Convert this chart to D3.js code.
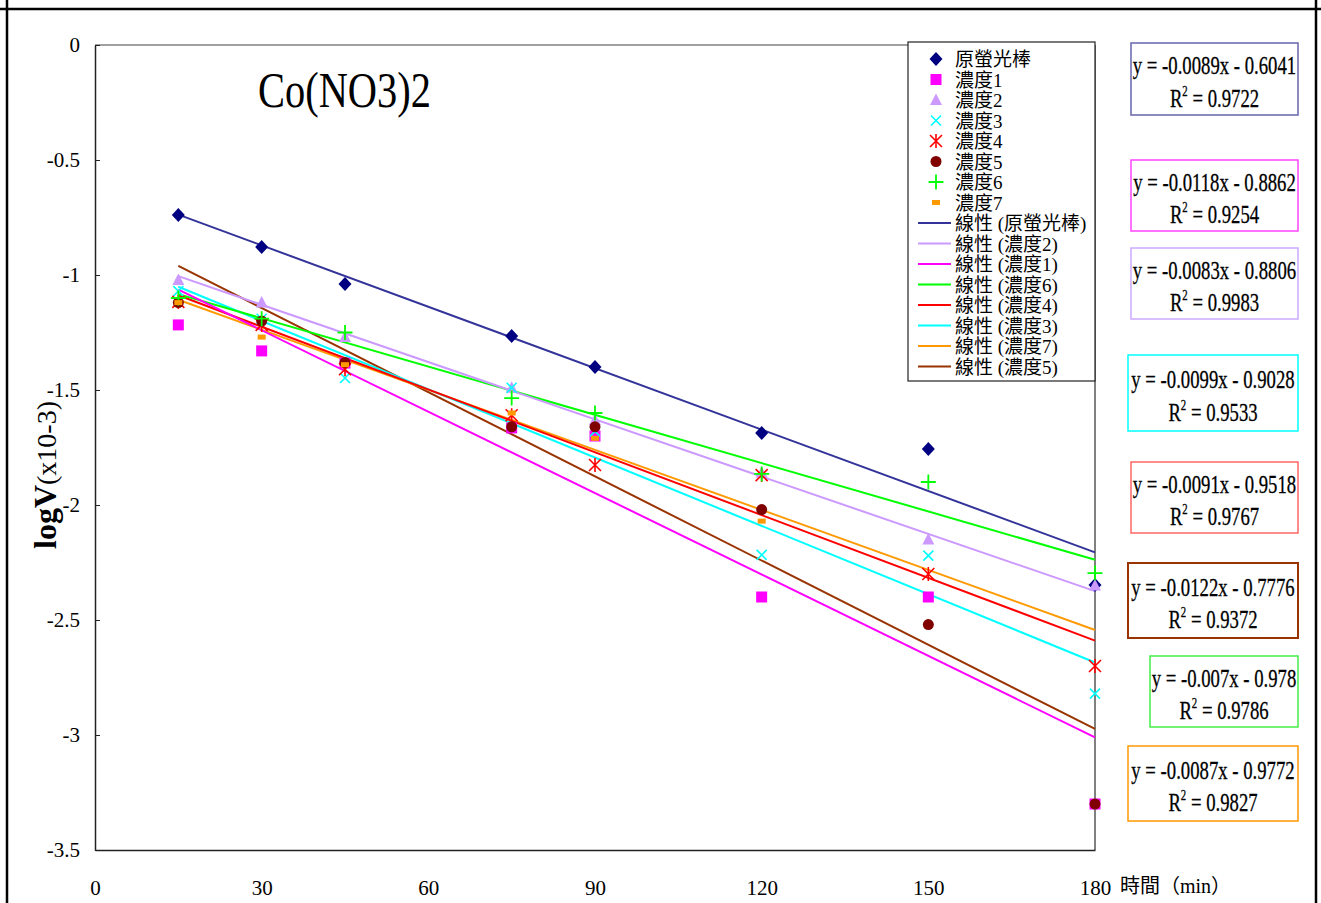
<!DOCTYPE html>
<html>
<head>
<meta charset="utf-8">
<script src="https://cdn.jsdelivr.net/npm/d3@7/dist/d3.min.js"></script>
<style>
  html, body { margin: 0; padding: 0; background: #fff; }
  svg { display: block; }
  text { font-family: "Liberation Serif", "Noto Sans CJK TC", serif; }
</style>
</head>
<body>
<svg id="chart" width="1321" height="903"></svg>
<script>
// Sampling times (min)
const times = [15, 30, 45, 75, 90, 120, 150, 180];

// Series names as shown in the legend
const seriesNames = ["原螢光棒", "濃度1", "濃度2", "濃度3", "濃度4", "濃度5", "濃度6", "濃度7"];

// logV readings for each series
const vOriginal = [-0.739, -0.878, -1.039, -1.265, -1.400, -1.687, -1.757, -2.348];
const vConc1 = [-1.217, -1.330, -1.383, -1.665, -1.700, -2.400, -2.400, -3.300];
const vConc2 = [-1.022, -1.120, -1.270, -1.490, -1.630, -1.860, -2.150, -2.350];
const vConc3 = [-1.070, -1.190, -1.448, -1.490, -1.680, -2.217, -2.220, -2.820];
const vConc4 = [-1.117, -1.217, -1.410, -1.610, -1.826, -1.870, -2.300, -2.700];
const vConc5 = [-1.120, -1.200, -1.380, -1.660, -1.660, -2.020, -2.520, -3.300];
const vConc6 = [-1.100, -1.190, -1.250, -1.535, -1.600, -1.865, -1.900, -2.296];
const vConc7 = [-1.120, -1.270, -1.390, -1.600, -1.710, -2.070, null, null];

// Linear fits (slope, intercept, R²) per series
const slopes = [-0.0089, -0.0118, -0.0083, -0.0099, -0.0091, -0.0122, -0.007, -0.0087];
const intercepts = [-0.6041, -0.8862, -0.8806, -0.9028, -0.9518, -0.7776, -0.978, -0.9772];
const rSquared = ["0.9722", "0.9254", "0.9983", "0.9533", "0.9767", "0.9372", "0.9786", "0.9827"];
const eqLabels = ["y = -0.0089x - 0.6041", "y = -0.0118x - 0.8862", "y = -0.0083x - 0.8806",
                  "y = -0.0099x - 0.9028", "y = -0.0091x - 0.9518", "y = -0.0122x - 0.7776",
                  "y = -0.007x - 0.978", "y = -0.0087x - 0.9772"];

// Order of the trendline entries in the legend (indices into seriesNames)
const trendOrder = [0, 2, 1, 6, 4, 3, 7, 5];

// Axis ticks
const xTicks = [0, 30, 60, 90, 120, 150, 180];
const yTicks = [0, -0.5, -1, -1.5, -2, -2.5, -3, -3.5];

const allValues = [vOriginal, vConc1, vConc2, vConc3, vConc4, vConc5, vConc6, vConc7];

// Styling
const markerColors = ["#000080", "#ff00ff", "#cc99ff", "#00ffff", "#ff0000", "#800000", "#00ff00", "#ff9900"];
const lineColors = ["#333399", "#ff00ff", "#cc99ff", "#00ffff", "#ff0000", "#993300", "#00ff00", "#ff9900"];
const boxColors = ["#6666aa", "#ff44ff", "#ccaaff", "#00ffff", "#ff6666", "#993300", "#44ee44", "#ff9900"];
const markerKinds = ["diamond", "square", "triangle", "cross", "asterisk", "circle", "plus", "dash"];

const svg = d3.select("#chart");

// Plot geometry
const plotL = 95, plotR = 1095, plotT = 45, plotB = 850;
const x = d3.scaleLinear().domain([0, 180]).range([plotL, plotR]);
const y = d3.scaleLinear().domain([0, -3.5]).range([plotT, plotB]);

// Page frame
svg.append("line").attr("x1", 0).attr("x2", 1321).attr("y1", 9).attr("y2", 9)
  .attr("stroke", "#000").attr("stroke-width", 2.5);
svg.append("line").attr("x1", 7).attr("x2", 7).attr("y1", 0).attr("y2", 903)
  .attr("stroke", "#000").attr("stroke-width", 2.5);
svg.append("line").attr("x1", 1316).attr("x2", 1316).attr("y1", 0).attr("y2", 903)
  .attr("stroke", "#000").attr("stroke-width", 2.5);

// Plot area border (top and right)
svg.append("line").attr("x1", plotL).attr("x2", plotR).attr("y1", plotT).attr("y2", plotT)
  .attr("stroke", "#808080").attr("stroke-width", 1.5);
svg.append("line").attr("x1", plotR).attr("x2", plotR).attr("y1", plotT).attr("y2", plotB)
  .attr("stroke", "#808080").attr("stroke-width", 2);

// Y axis
const yAxis = d3.axisLeft(y).tickValues(yTicks).tickSizeInner(-5).tickSizeOuter(0)
  .tickPadding(15).tickFormat(d => d === 0 ? "0" : String(d));
const gy = svg.append("g").attr("transform", `translate(${plotL},0)`).call(yAxis);
gy.select(".domain").attr("stroke", "#222").attr("stroke-width", 1.5);
gy.selectAll(".tick line").attr("stroke", "#222");
gy.selectAll(".tick text").attr("font-family", "Liberation Serif").attr("font-size", 21).attr("fill", "#000");

// X axis
const xAxis = d3.axisBottom(x).tickValues(xTicks).tickSize(0).tickPadding(30).tickFormat(d3.format("d"));
const gx = svg.append("g").attr("transform", `translate(0,${plotB})`).call(xAxis);
gx.select(".domain").attr("stroke", "#222").attr("stroke-width", 1.5);
gx.selectAll(".tick text").attr("font-family", "Liberation Serif").attr("font-size", 21).attr("fill", "#000");

// Axis titles
svg.append("text").attr("x", 1120).attr("y", 893).attr("font-size", 20).attr("fill", "#000")
  .text("時間（min）");

const yl = svg.append("text").attr("transform", "translate(56,475) rotate(-90)")
  .attr("text-anchor", "middle").attr("fill", "#000");
yl.append("tspan").attr("font-size", 32).attr("font-weight", "bold").text("logV");
yl.append("tspan").attr("font-size", 28).text("(x10-3)");

// Chart title
svg.append("text").attr("x", 258).attr("y", 107).attr("font-size", 50).attr("fill", "#000")
  .attr("textLength", 173).attr("lengthAdjust", "spacingAndGlyphs").text("Co(NO3)2");

// Marker drawing
function drawMarker(g, kind, color, cx, cy) {
  if (kind === "diamond") {
    g.append("path").attr("d", `M${cx},${cy - 7}L${cx + 6.5},${cy}L${cx},${cy + 7}L${cx - 6.5},${cy}Z`)
      .attr("fill", color);
  } else if (kind === "square") {
    g.append("rect").attr("x", cx - 5.5).attr("y", cy - 5.5)
      .attr("width", 11).attr("height", 11).attr("fill", color);
  } else if (kind === "triangle") {
    g.append("path").attr("d", `M${cx},${cy - 6.5}L${cx + 6},${cy + 5}L${cx - 6},${cy + 5}Z`)
      .attr("fill", color);
  } else if (kind === "cross") {
    const r = 5;
    g.append("path").attr("d", `M${cx - r},${cy - r}L${cx + r},${cy + r}M${cx - r},${cy + r}L${cx + r},${cy - r}`)
      .attr("stroke", color).attr("stroke-width", 1.6).attr("fill", "none");
  } else if (kind === "asterisk") {
    const r = 6;
    g.append("path").attr("d", `M${cx - r},${cy - r}L${cx + r},${cy + r}M${cx - r},${cy + r}L${cx + r},${cy - r}M${cx},${cy - r - 1}L${cx},${cy + r + 1}`)
      .attr("stroke", color).attr("stroke-width", 1.6).attr("fill", "none");
  } else if (kind === "circle") {
    g.append("circle").attr("cx", cx).attr("cy", cy).attr("r", 5.5).attr("fill", color);
  } else if (kind === "plus") {
    const r = 7.5;
    g.append("path").attr("d", `M${cx - r},${cy}L${cx + r},${cy}M${cx},${cy - r}L${cx},${cy + r}`)
      .attr("stroke", color).attr("stroke-width", 1.8).attr("fill", "none");
  } else if (kind === "dash") {
    g.append("rect").attr("x", cx - 4).attr("y", cy - 2.5)
      .attr("width", 8).attr("height", 5).attr("fill", color);
  }
}

// Trendlines, drawn across the sampled time range from each fit
const trendG = svg.append("g");
const tStart = d3.min(times), tEnd = d3.max(times);
trendOrder.slice().reverse().forEach(i => {
  trendG.append("line")
    .attr("x1", x(tStart)).attr("y1", y(slopes[i] * tStart + intercepts[i]))
    .attr("x2", x(tEnd)).attr("y2", y(slopes[i] * tEnd + intercepts[i]))
    .attr("stroke", lineColors[i]).attr("stroke-width", 2);
});

// Data points
const pointG = svg.append("g");
allValues.forEach((vals, i) => {
  vals.forEach((v, j) => {
    if (v === null) return;
    drawMarker(pointG, markerKinds[i], markerColors[i], x(times[j]), y(v));
  });
});

// Legend
const lg = svg.append("g");
lg.append("rect").attr("x", 908).attr("y", 42).attr("width", 187).attr("height", 339)
  .attr("fill", "#fff").attr("stroke", "#222").attr("stroke-width", 1.2);
const rowY = k => 59 + k * 20.5;
seriesNames.forEach((name, i) => {
  drawMarker(lg, markerKinds[i], markerColors[i], 936, rowY(i));
  lg.append("text").attr("x", 955).attr("y", rowY(i) + 7).attr("font-size", 19).attr("fill", "#000").text(name);
});
trendOrder.forEach((i, k) => {
  const yy = rowY(8 + k);
  lg.append("line").attr("x1", 918).attr("x2", 951).attr("y1", yy).attr("y2", yy)
    .attr("stroke", lineColors[i]).attr("stroke-width", 2);
  lg.append("text").attr("x", 955).attr("y", yy + 7).attr("font-size", 19).attr("fill", "#000")
    .text(`線性 (${seriesNames[i]})`);
});

// Equation boxes with a narrow, tall serif face
const boxes = [
  [1131, 43, 167, 72], [1131, 160, 167, 71], [1131, 248, 167, 71], [1128, 355, 170, 76],
  [1131, 462, 167, 71], [1128, 563, 170, 75], [1150, 656, 148, 71], [1128, 746, 170, 75]
];
const squeeze = 0.72;
const eqG = svg.append("g");
boxes.forEach((b, i) => {
  const [bx, by, bw, bh] = b;
  eqG.append("rect").attr("x", bx).attr("y", by).attr("width", bw).attr("height", bh)
    .attr("fill", "#fff").attr("stroke", boxColors[i]).attr("stroke-width", i === 5 ? 2 : 1.5);
  const cx = bx + bw / 2;
  const cy = by + bh / 2;
  const tg = eqG.append("g").attr("transform", `translate(${cx},${cy}) scale(${squeeze},1)`);
  tg.append("text").attr("x", 0).attr("y", -5).attr("text-anchor", "middle")
    .attr("font-size", 26).attr("stroke", "#000").attr("stroke-width", 0.3)
    .attr("fill", "#000").text(eqLabels[i]);
  const r2 = tg.append("text").attr("x", 0).attr("y", 28).attr("text-anchor", "middle")
    .attr("font-size", 26).attr("stroke", "#000").attr("stroke-width", 0.3).attr("fill", "#000");
  r2.append("tspan").text("R");
  r2.append("tspan").attr("font-size", 15).attr("dy", -11).text("2");
  r2.append("tspan").attr("dy", 11).text(" = " + rSquared[i]);
});
</script>
</body>
</html>
